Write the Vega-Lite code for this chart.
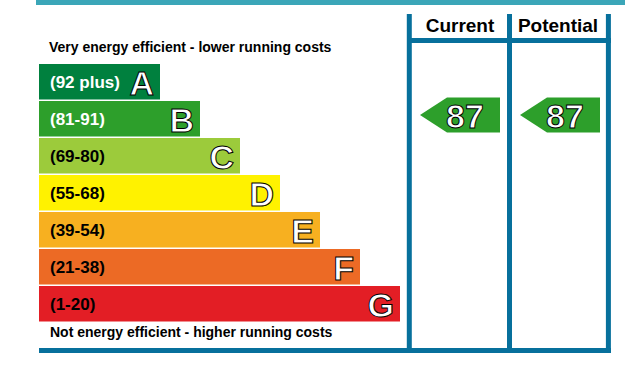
{
  "$schema": "https://vega.github.io/schema/vega-lite/v6.json",
  "width": 625,
  "height": 387,
  "autosize": {"type": "fit", "contains": "padding"},
  "padding": 0,
  "background": "white",
  "config": {"view": {"stroke": null}, "font": "Liberation Sans"},
  "datasets": {
    "bands": [
      {"band": "A", "label": "(92 plus)", "x1": 39, "x2": 160, "y1": 64, "y2": 99.5},
      {"band": "B", "label": "(81-91)", "x1": 39, "x2": 200, "y1": 101, "y2": 136.5},
      {"band": "C", "label": "(69-80)", "x1": 39, "x2": 240, "y1": 138, "y2": 173.5},
      {"band": "D", "label": "(55-68)", "x1": 39, "x2": 280, "y1": 175, "y2": 210.5},
      {"band": "E", "label": "(39-54)", "x1": 39, "x2": 320, "y1": 212, "y2": 247.5},
      {"band": "F", "label": "(21-38)", "x1": 39, "x2": 360, "y1": 249, "y2": 284.5},
      {"band": "G", "label": "(1-20)", "x1": 39, "x2": 400, "y1": 286, "y2": 321.5}
    ],
    "topbar": [
      {"x1": 36, "x2": 625, "y1": 0, "y2": 5}
    ],
    "lines": [
      {"x1": 409.3, "x2": 409.3, "y1": 14, "y2": 353},
      {"x1": 509.5, "x2": 509.5, "y1": 14, "y2": 353},
      {"x1": 608.4, "x2": 608.4, "y1": 14, "y2": 353},
      {"x1": 407, "x2": 611, "y1": 40.5, "y2": 40.5},
      {"x1": 39, "x2": 611, "y1": 350.4, "y2": 350.4}
    ],
    "headers": [
      {"text": "Current", "x": 460, "y": 32},
      {"text": "Potential", "x": 558, "y": 32}
    ],
    "captions": [
      {"text": "Very energy efficient - lower running costs", "x": 49, "y": 52},
      {"text": "Not energy efficient - higher running costs", "x": 50, "y": 337}
    ],
    "ratings": [
      {"column": "Current", "score": 87, "band": "B", "x": 460, "y": 115},
      {"column": "Potential", "score": 87, "band": "B", "x": 560, "y": 115}
    ]
  },
  "layer": [
    {
      "data": {"name": "bands"},
      "mark": {"type": "rect"},
      "encoding": {
        "x": {"field": "x1", "type": "quantitative", "scale": {"domain": [0, 625], "nice": false, "zero": false}, "axis": null},
        "x2": {"field": "x2"},
        "y": {"field": "y1", "type": "quantitative", "scale": {"domain": [0, 387], "reverse": true, "nice": false, "zero": false}, "axis": null},
        "y2": {"field": "y2"},
        "color": {"field": "band", "type": "nominal", "scale": {"domain": ["A", "B", "C", "D", "E", "F", "G"], "range": ["#00803e", "#2d9f2b", "#9ccb3b", "#fff200", "#f7b020", "#ec6a25", "#e31e25"]}, "legend": null}
      }
    },
    {
      "data": {"name": "topbar"},
      "mark": {"type": "rect", "color": "#3ba6b8"},
      "encoding": {
        "x": {"field": "x1", "type": "quantitative", "scale": {"domain": [0, 625], "nice": false, "zero": false}, "axis": null},
        "x2": {"field": "x2"},
        "y": {"field": "y1", "type": "quantitative", "scale": {"domain": [0, 387], "reverse": true, "nice": false, "zero": false}, "axis": null},
        "y2": {"field": "y2"}
      }
    },
    {
      "data": {"name": "lines"},
      "mark": {"type": "rule", "strokeWidth": 5, "color": "#07709c"},
      "encoding": {
        "x": {"field": "x1", "type": "quantitative", "scale": {"domain": [0, 625], "nice": false, "zero": false}, "axis": null},
        "x2": {"field": "x2"},
        "y": {"field": "y1", "type": "quantitative", "scale": {"domain": [0, 387], "reverse": true, "nice": false, "zero": false}, "axis": null},
        "y2": {"field": "y2"}
      }
    },
    {
      "data": {"name": "bands"},
      "mark": {"type": "text", "align": "left", "baseline": "alphabetic", "dx": 11, "dy": 24, "fontSize": 17, "fontWeight": "bold"},
      "encoding": {
        "x": {"field": "x1", "type": "quantitative", "scale": {"domain": [0, 625], "nice": false, "zero": false}, "axis": null},
        "y": {"field": "y1", "type": "quantitative", "scale": {"domain": [0, 387], "reverse": true, "nice": false, "zero": false}, "axis": null},
        "text": {"field": "label"},
        "color": {"condition": {"test": "datum.band === 'A' || datum.band === 'B'", "value": "white"}, "value": "black"}
      }
    },
    {
      "data": {"name": "bands"},
      "mark": {"type": "text", "align": "right", "baseline": "alphabetic", "dx": -6, "dy": 31, "fontSize": 34, "fontWeight": "bold", "fill": "white", "stroke": "black", "strokeWidth": 1},
      "encoding": {
        "x": {"field": "x2", "type": "quantitative", "scale": {"domain": [0, 625], "nice": false, "zero": false}, "axis": null},
        "y": {"field": "y1", "type": "quantitative", "scale": {"domain": [0, 387], "reverse": true, "nice": false, "zero": false}, "axis": null},
        "text": {"field": "band"}
      }
    },
    {
      "data": {"name": "headers"},
      "mark": {"type": "text", "align": "center", "baseline": "alphabetic", "fontSize": 19, "fontWeight": "bold", "color": "black"},
      "encoding": {
        "x": {"field": "x", "type": "quantitative", "scale": {"domain": [0, 625], "nice": false, "zero": false}, "axis": null},
        "y": {"field": "y", "type": "quantitative", "scale": {"domain": [0, 387], "reverse": true, "nice": false, "zero": false}, "axis": null},
        "text": {"field": "text"}
      }
    },
    {
      "data": {"name": "captions"},
      "mark": {"type": "text", "align": "left", "baseline": "alphabetic", "fontSize": 14, "fontWeight": "bold", "color": "black"},
      "encoding": {
        "x": {"field": "x", "type": "quantitative", "scale": {"domain": [0, 625], "nice": false, "zero": false}, "axis": null},
        "y": {"field": "y", "type": "quantitative", "scale": {"domain": [0, 387], "reverse": true, "nice": false, "zero": false}, "axis": null},
        "text": {"field": "text"}
      }
    },
    {
      "data": {"name": "ratings"},
      "mark": {"type": "point", "shape": "M-1,0L-0.325,-0.4375L1,-0.4375L1,0.4375L-0.325,0.4375Z", "size": 6400, "filled": true, "color": "#2d9f2b", "opacity": 1, "strokeWidth": 0},
      "encoding": {
        "x": {"field": "x", "type": "quantitative", "scale": {"domain": [0, 625], "nice": false, "zero": false}, "axis": null},
        "y": {"field": "y", "type": "quantitative", "scale": {"domain": [0, 387], "reverse": true, "nice": false, "zero": false}, "axis": null}
      }
    },
    {
      "data": {"name": "ratings"},
      "mark": {"type": "text", "align": "center", "baseline": "alphabetic", "dx": 5, "dy": 13, "fontSize": 34, "fontWeight": "bold", "fill": "white", "stroke": "black", "strokeWidth": 1},
      "encoding": {
        "x": {"field": "x", "type": "quantitative", "scale": {"domain": [0, 625], "nice": false, "zero": false}, "axis": null},
        "y": {"field": "y", "type": "quantitative", "scale": {"domain": [0, 387], "reverse": true, "nice": false, "zero": false}, "axis": null},
        "text": {"field": "score"}
      }
    }
  ]
}
